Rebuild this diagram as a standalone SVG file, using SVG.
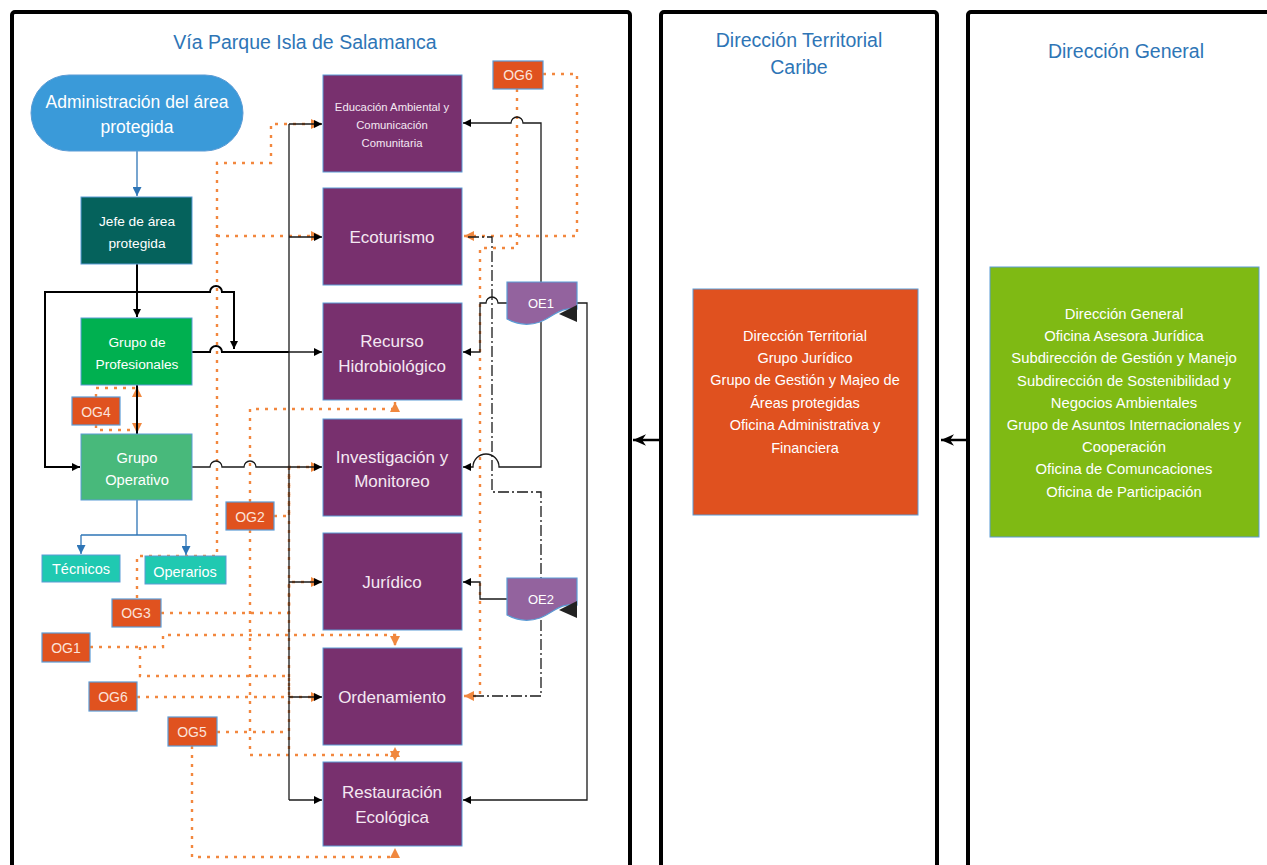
<svg xmlns="http://www.w3.org/2000/svg" width="1267" height="865" viewBox="0 0 1267 865">
<defs>
<style>
text{font-family:"Liberation Sans",Arial,sans-serif;text-anchor:middle}
.lane{fill:#fff;stroke:#000;stroke-width:4}
.ttl{fill:#2E75B6;font-size:19.5px}
.pur{fill:#78306E;stroke:#5B9BD5;stroke-width:1}
.pt{fill:#F4E8F2;font-size:17px}
.pts{fill:#F4E8F2;font-size:11.3px}
.og{fill:#E0521F;stroke:#5B9BD5;stroke-width:1.2}
.ogt{fill:#FBE3DA;font-size:14px}
.wt{fill:#fff}
.bl{fill:none;stroke:#1a1a1a;stroke-width:1.3}
.bk{fill:none;stroke:#000;stroke-width:2}
.blu{fill:none;stroke:#2E75B6;stroke-width:1.3}
.or{fill:none;stroke:#F2873E;stroke-width:2.4;stroke-dasharray:3 6}
.dd{fill:none;stroke:#1a1a1a;stroke-width:1.3;stroke-dasharray:11 3 2 3}
.oe{fill:#93639E;stroke:#5B9BD5;stroke-width:1.2}
</style>
<marker id="ab" viewBox="0 0 10 10" refX="10" refY="5" markerWidth="8" markerHeight="8" markerUnits="userSpaceOnUse" orient="auto"><path d="M0,0 L10,5 L0,10 Z" fill="#000"/></marker>
<marker id="abl" viewBox="0 0 10 10" refX="10" refY="5" markerWidth="9" markerHeight="9" markerUnits="userSpaceOnUse" orient="auto"><path d="M0,0 L10,5 L0,10 Z" fill="#2E75B6"/></marker>
<marker id="ao" viewBox="0 0 10 10" refX="10" refY="5" markerWidth="10" markerHeight="10" markerUnits="userSpaceOnUse" orient="auto"><path d="M0,0 L10,5 L0,10 Z" fill="#F0883F"/></marker>
<marker id="alane" viewBox="0 0 10 10" refX="10" refY="5" markerWidth="13" markerHeight="13" markerUnits="userSpaceOnUse" orient="auto"><path d="M0,0.5 L10,5 L0,9.5 L3,5 Z" fill="#000"/></marker>
</defs>
<rect width="1267" height="865" fill="#fff"/>

<g id="lanes">
<rect class="lane" x="12" y="12" width="618" height="900" rx="3"/>
<rect class="lane" x="661" y="12" width="276" height="900" rx="3"/>
<rect class="lane" x="968" y="12" width="330" height="900" rx="3"/>
<text class="ttl" x="305" y="49">Vía Parque Isla de Salamanca</text>
<text class="ttl" x="799" y="47">Dirección Territorial</text>
<text class="ttl" x="799" y="74">Caribe</text>
<text class="ttl" x="1126" y="58">Dirección General</text>
</g>

<g id="connectors">
<path d="M660,440 H633" fill="none" stroke="#000" stroke-width="2.5" marker-end="url(#alane)"/>
<path d="M967,440 H941" fill="none" stroke="#000" stroke-width="2.5" marker-end="url(#alane)"/>

<path class="or" d="M137,598 V556 H217 V163 H271 V124 H321" marker-end="url(#ao)"/>
<path class="or" d="M217,236 H321" marker-end="url(#ao)"/>
<path class="or" d="M161,613 H289 V582 H321" marker-end="url(#ao)"/>
<path class="or" d="M274,516 H289 V467 H321" marker-end="url(#ao)"/>
<path class="or" d="M289,467 V755"/>
<path class="or" d="M250,502 V409 H395 V402" marker-end="url(#ao)"/>
<path class="or" d="M250,530 V755 H395"/>
<path class="or" d="M395,755 V747" marker-end="url(#ao)"/>
<path class="or" d="M395,755 V761" marker-end="url(#ao)"/>
<path class="or" d="M90,647 H163 V635 H395 V646" marker-end="url(#ao)"/>
<path class="or" d="M140,647 V676 H289 V697"/>
<path class="or" d="M137,697 H321" marker-end="url(#ao)"/>
<path class="or" d="M217,732 H289"/>
<path class="or" d="M192,746 V857 H395 V848" marker-end="url(#ao)"/>
<path class="or" d="M96,397 V388 H137"/>
<path class="or" d="M137,390 V387" marker-end="url(#ao)"/>
<path class="or" d="M96,425 V430 H137"/>
<path class="or" d="M137,428 V433" marker-end="url(#ao)"/>
<path class="or" d="M543,74 H577 V236 H464" marker-end="url(#ao)"/>
<path class="or" d="M517,89 V248 H480 V696 H464" marker-end="url(#ao)"/>

<path class="blu" d="M137,151 V196" marker-end="url(#abl)"/>
<path class="blu" d="M137,500 V535 M81,535 H186"/>
<path class="blu" d="M81,535 V554" marker-end="url(#abl)"/>
<path class="blu" d="M186,535 V555" marker-end="url(#abl)"/>

<path class="bk" d="M137,264 V317" marker-end="url(#ab)"/>
<path class="bk" d="M137,292 H210 a6,6 0 0 1 12,0 H234 V349" marker-end="url(#ab)"/>
<path class="bk" d="M137,292 H45 V467 H80" marker-end="url(#ab)"/>
<path class="bk" d="M192,352 H210 a6,6 0 0 1 12,0 H289"/>
<path class="bl" d="M289,352 H322" marker-end="url(#ab)"/>
<path class="bk" d="M137,385 V434" stroke-width="1.5"/>
<path class="bl" d="M192,467 H210 a6,6 0 0 1 12,0 H244 a6,6 0 0 1 12,0 H322" marker-end="url(#ab)"/>
<path class="bl" d="M289,124 V800"/>
<path class="bl" d="M289,124 H322" marker-end="url(#ab)"/>
<path class="bl" d="M289,237 H322" marker-end="url(#ab)"/>
<path class="bl" d="M289,582 H322" marker-end="url(#ab)"/>
<path class="bl" d="M289,697 H322" marker-end="url(#ab)"/>
<path class="bl" d="M289,800 H322" marker-end="url(#ab)"/>

<path class="bl" d="M541,282 V123 H523 a6,6 0 0 0 -12,0 H463" marker-end="url(#ab)"/>
<path class="bl" d="M507,303 H498 a6,6 0 0 0 -12,0 H480 V352 H463" marker-end="url(#ab)"/>
<path class="bl" d="M541,322 V467 H499 a13,13 0 0 0 -26,0 H463" marker-end="url(#ab)"/>
<path class="bl" d="M577,303 H587 V800 H463" marker-end="url(#ab)"/>
<path class="bl" d="M507,599 H480 V582 H463" marker-end="url(#ab)"/>
<path class="dd" d="M468,237 H492 V492 H541 V696 H470"/>
</g>

<g id="n-admin"><rect x="31" y="75" width="212" height="76" rx="38" fill="#3A9AD9" stroke="#5B9BD5"/><text class="wt" x="137" y="108" font-size="17.5">Administración del área</text><text class="wt" x="137" y="133" font-size="17.5">protegida</text></g>
<g id="n-jefe"><rect x="81" y="197" width="111" height="67" fill="#05625C" stroke="#5B9BD5"/><text class="wt" x="137" y="226" font-size="13.7">Jefe de área</text><text class="wt" x="137" y="248" font-size="13.7">protegida</text></g>
<g id="n-prof"><rect x="81" y="318" width="111" height="67" fill="#00B050" stroke="#5B9BD5"/><text class="wt" x="137" y="347" font-size="13.7">Grupo de</text><text class="wt" x="137" y="369" font-size="13.7">Profesionales</text></g>
<g id="n-oper"><rect x="81" y="434" width="111" height="66" fill="#48B97B" stroke="#5B9BD5"/><text class="wt" x="137" y="463" font-size="14.7">Grupo</text><text class="wt" x="137" y="485" font-size="14.7">Operativo</text></g>
<g id="n-tec"><rect x="42" y="555" width="78" height="27" fill="#20C9B1" stroke="#5B9BD5"/><text class="wt" x="81" y="574" font-size="14.5">Técnicos</text></g>
<g id="n-operarios"><rect x="145" y="556" width="81" height="28" fill="#20C9B1" stroke="#5B9BD5"/><text class="wt" x="185" y="577" font-size="14.5">Operarios</text></g>

<g id="n-og4"><rect class="og" x="72" y="397" width="48" height="28"/><text class="ogt" x="96" y="417">OG4</text></g>
<g id="n-og2"><rect class="og" x="226" y="502" width="48" height="28"/><text class="ogt" x="250" y="522">OG2</text></g>
<g id="n-og3"><rect class="og" x="112" y="599" width="49" height="28"/><text class="ogt" x="136" y="618">OG3</text></g>
<g id="n-og1"><rect class="og" x="42" y="633" width="48" height="29"/><text class="ogt" x="66" y="653">OG1</text></g>
<g id="n-og6b"><rect class="og" x="89" y="682" width="48" height="29"/><text class="ogt" x="113" y="702">OG6</text></g>
<g id="n-og5"><rect class="og" x="168" y="717" width="49" height="29"/><text class="ogt" x="192" y="737">OG5</text></g>
<g id="n-og6a"><rect class="og" x="493" y="61" width="50" height="28"/><text class="ogt" x="518" y="80">OG6</text></g>

<g id="n-edu"><rect class="pur" x="323" y="75" width="139" height="97"/><text class="pts" x="392" y="111">Educación Ambiental y</text><text class="pts" x="392" y="129">Comunicación</text><text class="pts" x="392" y="147">Comunitaria</text></g>
<g id="n-eco"><rect class="pur" x="323" y="188" width="139" height="97"/><text class="pt" x="392" y="243">Ecoturismo</text></g>
<g id="n-rec"><rect class="pur" x="323" y="303" width="139" height="97"/><text class="pt" x="392" y="347">Recurso</text><text class="pt" x="392" y="372">Hidrobiológico</text></g>
<g id="n-inv"><rect class="pur" x="323" y="419" width="139" height="97"/><text class="pt" x="392" y="463">Investigación y</text><text class="pt" x="392" y="487">Monitoreo</text></g>
<g id="n-jur"><rect class="pur" x="323" y="533" width="139" height="97"/><text class="pt" x="392" y="588">Jurídico</text></g>
<g id="n-ord"><rect class="pur" x="323" y="648" width="139" height="97"/><text class="pt" x="392" y="703">Ordenamiento</text></g>
<g id="n-res"><rect class="pur" x="323" y="762" width="139" height="84"/><text class="pt" x="392" y="798">Restauración</text><text class="pt" x="392" y="823">Ecológica</text></g>

<g id="n-oe1"><path class="oe" d="M507,282 H577 V309 C560,306 552,318 540,322 C528,326 516,324 507,319 Z"/><polygon points="559,314 577,305 577,322" fill="#222"/><text class="wt" x="541" y="308" font-size="13">OE1</text></g>
<g id="n-oe2"><path class="oe" d="M507,578 H577 V605 C560,602 552,614 540,618 C528,622 516,620 507,615 Z"/><polygon points="559,610 577,601 577,618" fill="#222"/><text class="wt" x="541" y="604" font-size="13">OE2</text></g>

<g id="n-dt"><rect x="693" y="289" width="225" height="226" fill="#E0511F" stroke="#5B9BD5"/>
<text class="wt" font-size="14.5" x="805"><tspan x="805" y="341">Dirección Territorial</tspan><tspan x="805" y="363">Grupo Jurídico</tspan><tspan x="805" y="385">Grupo de Gestión y Majeo de</tspan><tspan x="805" y="408">Áreas protegidas</tspan><tspan x="805" y="430">Oficina Administrativa y</tspan><tspan x="805" y="453">Financiera</tspan></text></g>

<g id="n-dg"><rect x="990" y="267" width="269" height="270" fill="#7FBA14" stroke="#5B9BD5"/>
<text class="wt" font-size="14.8" x="1124"><tspan x="1124" y="319">Dirección General</tspan><tspan x="1124" y="341">Oficina Asesora Jurídica</tspan><tspan x="1124" y="363">Subdirección de Gestión y Manejo</tspan><tspan x="1124" y="386">Subdirección de Sostenibilidad y</tspan><tspan x="1124" y="408">Negocios Ambientales</tspan><tspan x="1124" y="430">Grupo de Asuntos Internacionales y</tspan><tspan x="1124" y="452">Cooperación</tspan><tspan x="1124" y="474">Oficina de Comuncaciones</tspan><tspan x="1124" y="497">Oficina de Participación</tspan></text></g>
</svg>
